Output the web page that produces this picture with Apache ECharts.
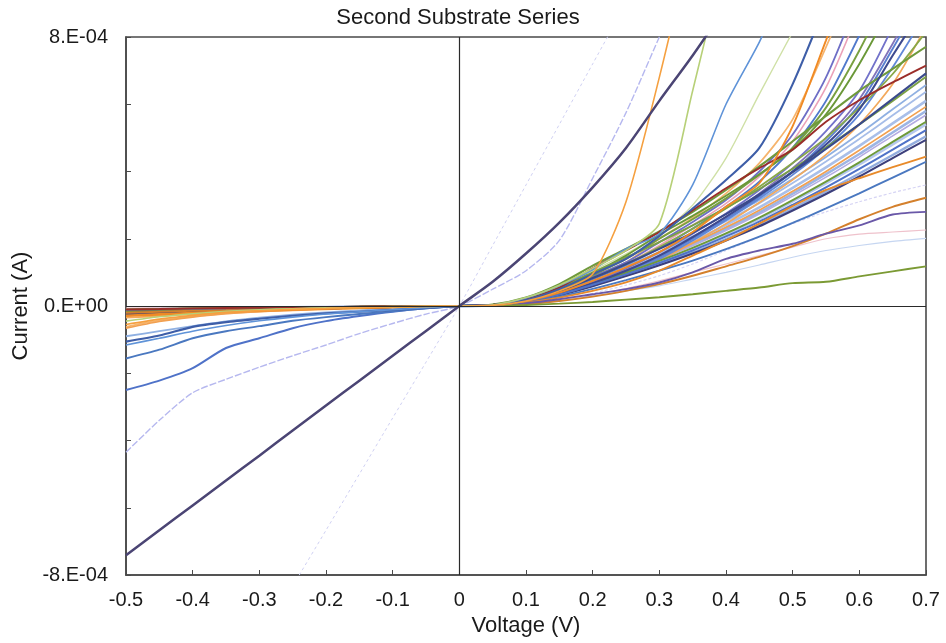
<!DOCTYPE html>
<html>
<head>
<meta charset="utf-8">
<title>Second Substrate Series</title>
<script src="https://cdn.jsdelivr.net/npm/echarts@6/dist/echarts.min.js"></script>
<style>
  html, body { margin: 0; padding: 0; background: #fff; }
  #chart { width: 946px; height: 643px; }
</style>
</head>
<body>
<div id="chart"></div>
<script>
// Bias voltage sweep (V)
const voltage = [-0.5, -0.45, -0.4, -0.35, -0.3, -0.25, -0.2, -0.15, -0.1, -0.05, 0,
                 0.05, 0.1, 0.15, 0.2, 0.25, 0.3, 0.35, 0.4, 0.45, 0.5, 0.55, 0.6, 0.65, 0.7];

// Measured currents, in microamps, one array per device (null = beyond sweep/compliance)
const cur_ohmic      = [-741,-667,-593,-519,-445,-370,-296,-222,-148,-74,0, 72,156,248,353,470,610,745,890,null,null,null,null,null,null];
const cur_faint      = [null,null,null,null,-1000,-833,-667,-500,-333,-167,0, 180,360,540,720,900,null,null,null,null,null,null,null,null,null];
const cur_lavender   = [-435,-340,-258,-218,-182,-148,-116,-82,-52,-24,0, 50,105,195,380,575,800,1020,null,null,null,null,null,null,null];
const cur_orangeStp  = [-55,-39,-28,-19,-14,-10,-7,-4,-3,-1,0, 2,15,45,95,310,680,1100,null,null,null,null,null,null,null];
const cur_limeStp    = [-45,-32,-23,-16,-11,-8,-5,-4,-2,-1,0, 3,25,62,112,165,245,640,1050,null,null,null,null,null,null];
const cur_blueStp    = [-116,-96,-75,-58,-44,-33,-24,-17,-11,-5,0, 3,24,60,108,170,215,360,600,785,1000,null,null,null,null];
const cur_paleGreen  = [-12,-10,-8,-7,-6,-4,-3,-2,-1,-1,0, 3,24,58,105,155,215,300,440,630,815,null,null,null,null];
const cur_darkBlue   = [-106,-88,-62,-48,-38,-29,-22,-17,-12,-6,0, 2,18,50,95,140,208,290,375,470,660,900,null,null,null];
const cur_orange1    = [-30,-26,-21,-17,-14,-11,-8,-6,-4,-2,0, 2,15,40,75,115,160,220,295,365,535,790,1050,null,null];
const cur_peach1     = [-62,-43,-31,-22,-16,-11,-7,-5,-3,-1,0, 3,18,48,88,130,200,262,335,425,555,770,1000,null,null];
const cur_violet1    = [-15,-13,-11,-9,-7,-6,-4,-3,-2,-1,0, 3,18,48,88,130,190,250,315,400,510,680,920,null,null];
const cur_pink1      = [-10,-9,-7,-6,-5,-4,-3,-2,-1,-1,0, 3,17,46,84,125,180,240,305,385,490,650,880,null,null];
const cur_blue1      = [-20,-17,-14,-12,-9,-7,-6,-4,-2,-1,0, 2,16,44,80,122,172,230,295,370,470,610,805,null,null];
const cur_green1     = [-14,-12,-10,-8,-7,-5,-4,-3,-2,-1,0, 3,19,50,92,140,200,258,320,390,470,590,760,960,null];
const cur_green2     = [-18,-15,-13,-10,-8,-7,-5,-4,-2,-1,0, 3,20,53,97,150,212,268,328,392,465,570,720,900,null];
const cur_violet2    = [-12,-10,-8,-7,-6,-4,-3,-2,-1,-1,0, 2,15,40,72,112,160,215,275,345,425,520,640,830,null];
const cur_purple1    = [-16,-14,-11,-9,-8,-6,-4,-3,-2,-1,0, 2,14,38,68,105,150,205,265,335,410,500,615,780,960];
const cur_blue2      = [-22,-19,-15,-13,-10,-8,-6,-4,-3,-1,0, 2,14,36,66,102,145,200,258,325,400,490,600,765,940];
const cur_navy1      = [-25,-21,-18,-15,-12,-9,-7,-5,-3,-1,0, 2,14,38,68,105,150,205,265,330,400,480,585,745,900];
const cur_blue3      = [-18,-15,-13,-10,-8,-7,-5,-4,-2,-1,0, 2,13,35,64,98,140,195,255,320,390,470,570,710,870];
const cur_peach2     = [-35,-30,-25,-20,-16,-13,-10,-7,-4,-2,0, 2,13,34,62,95,135,188,245,308,375,450,540,660,830];
const cur_green3     = [-12,-10,-8,-7,-6,-4,-3,-2,-1,-1,0, 3,17,46,84,125,175,230,290,355,425,500,590,690,815];
const cur_greenTop   = [-14,-12,-10,-8,-7,-5,-4,-3,-2,-1,0, 4,25,65,120,170,222,280,345,415,490,565,640,705,771];
const cur_darkRed    = [-10,-9,-7,-6,-5,-4,-3,-2,-1,-1,0, 3,20,55,112,165,220,285,350,410,465,548,612,665,715];
const cur_navy2      = [-24,-20,-17,-14,-11,-9,-7,-5,-3,-1,0, 3,17,45,83,125,170,218,273,332,398,467,540,616,692];
const cur_green4     = [-12,-10,-8,-7,-6,-4,-3,-2,-1,-1,0, 3,20,55,100,145,190,240,292,348,408,472,540,610,682];
const cur_ltBlue1    = [-90,-75,-60,-46,-35,-26,-19,-13,-8,-4,0, 3,16,43,79,118,161,207,260,315,378,443,512,585,657];
const cur_ltBlue2    = [-20,-17,-14,-12,-9,-7,-6,-4,-2,-1,0, 3,16,41,76,115,156,201,252,306,366,430,497,567,637];
const cur_orange2    = [-66,-46,-33,-23,-17,-12,-8,-5,-3,-1,0, 2,15,39,71,107,145,187,234,285,341,400,463,528,593];
const cur_ltPurple   = [-15,-13,-11,-9,-7,-6,-4,-3,-2,-1,0, 2,14,37,68,102,139,179,224,273,327,383,443,506,568];
const cur_green5     = [-18,-15,-13,-10,-8,-7,-5,-4,-2,-1,0, 2,14,36,66,99,134,173,216,263,315,370,427,488,548];
const cur_blue4      = [-250,-222,-185,-125,-96,-66,-45,-30,-17,-7,0, 2,13,34,63,94,128,165,207,251,301,353,408,465,523];
const cur_navy3      = [-22,-19,-15,-13,-10,-8,-6,-4,-3,-1,0, 2,12,32,59,89,121,156,195,237,284,333,385,440,494];
const cur_orange3    = [-28,-24,-20,-16,-13,-10,-8,-6,-3,-1,0, 2,10,25,45,70,105,150,195,245,297,345,380,413,444];
const cur_blue5      = [-156,-130,-96,-75,-60,-44,-33,-24,-16,-7,0, 2,11,28,51,77,105,135,169,206,247,290,335,382,429];
const cur_band1      = [-14,-12,-10,-8,-7,-5,-4,-3,-2,-1,0, 2,15,40,73,110,149,192,241,293,351,412,476,543,610];
const cur_band2      = [-16,-14,-11,-9,-8,-6,-4,-3,-2,-1,0, 2,15,38,70,104,142,183,229,278,334,392,452,516,580];
const cur_band3      = [-12,-10,-8,-7,-6,-4,-3,-2,-1,-1,0, 2,14,35,65,97,132,170,213,259,311,365,421,481,540];
const cur_band4      = [-18,-15,-13,-10,-8,-7,-5,-4,-2,-1,0, 2,13,33,61,91,124,159,199,242,290,341,394,449,505];
const cur_faintLav   = [-8,-7,-6,-5,-4,-3,-2,-2,-1,0,0, 1,8,20,38,62,90,125,165,205,245,280,310,337,360];
const cur_brown      = [-20,-17,-14,-12,-9,-7,-6,-4,-2,-1,0, 1,6,15,28,45,65,90,118,146,178,215,258,295,322];
const cur_purple2    = [-12,-10,-8,-7,-6,-4,-3,-2,-1,-1,0, 1,8,20,35,50,70,100,140,165,185,215,240,272,280];
const cur_palePink   = [-6,-5,-4,-3,-3,-2,-2,-1,-1,0,0, 1,7,18,33,52,75,100,125,150,175,200,214,220,226];
const cur_paleBlue   = [-8,-7,-6,-5,-4,-3,-2,-2,-1,0,0, 1,7,16,30,45,60,80,100,122,145,165,180,192,201];
const cur_olive      = [-10,-9,-7,-6,-5,-4,-3,-2,-1,-1,0, 1,3,7,12,19,26,35,45,55,68,72,88,103,118];

// Axis ticks (microamps) that carry a label
const yLabelTicks = [-800, 0, 800];
const xTicks = [-0.5, -0.4, -0.3, -0.2, -0.1, 0, 0.1, 0.2, 0.3, 0.4, 0.5, 0.6, 0.7];

// Drawing order: pale traces first, bold ones last
const traces = [
  { d: cur_faint,     c: '#cfd0f2', w: 1.0, t: [3, 3] },
  { d: cur_faintLav,  c: '#d6d4f4', w: 1.2, t: [3, 2] },
  { d: cur_palePink,  c: '#efc2cc', w: 1.2 },
  { d: cur_paleBlue,  c: '#c6d6f1', w: 1.2 },
  { d: cur_paleGreen, c: '#cfe0a6', w: 1.4 },
  { d: cur_lavender,  c: '#b6b8ef', w: 1.4, t: [7, 2] },
  { d: cur_band1,     c: '#a9bfe9', w: 2.6 },
  { d: cur_band2,     c: '#9db5e4', w: 2.6 },
  { d: cur_band3,     c: '#b5c8ee', w: 2.6 },
  { d: cur_band4,     c: '#93addf', w: 2.4 },
  { d: cur_ltBlue1,   c: '#8fb0e2', w: 1.8 },
  { d: cur_ltBlue2,   c: '#a6bde8', w: 1.8 },
  { d: cur_ltPurple,  c: '#b3abe2', w: 1.5 },
  { d: cur_pink1,     c: '#eaa2b9', w: 1.6 },
  { d: cur_peach1,    c: '#f6b46d', w: 1.7 },
  { d: cur_peach2,    c: '#f3a95c', w: 1.7 },
  { d: cur_orange2,   c: '#f2a050', w: 1.7 },
  { d: cur_violet1,   c: '#6e6ec6', w: 1.8 },
  { d: cur_violet2,   c: '#7272ca', w: 1.8 },
  { d: cur_purple1,   c: '#8173ba', w: 1.8 },
  { d: cur_blue1,     c: '#5079cc', w: 1.9 },
  { d: cur_blue2,     c: '#5a7fd0', w: 1.9 },
  { d: cur_blue3,     c: '#6188d8', w: 1.8 },
  { d: cur_green1,    c: '#78a040', w: 1.9 },
  { d: cur_green2,    c: '#6a9838', w: 1.9 },
  { d: cur_green3,    c: '#88a848', w: 1.8 },
  { d: cur_green4,    c: '#7aa045', w: 1.9 },
  { d: cur_green5,    c: '#6e9a3a', w: 1.9 },
  { d: cur_greenTop,  c: '#6f9a3c', w: 2.1 },
  { d: cur_navy1,     c: '#3d4a90', w: 2.1 },
  { d: cur_navy2,     c: '#3a4a8c', w: 2.1 },
  { d: cur_navy3,     c: '#3c3f7c', w: 2.1 },
  { d: cur_blue4,     c: '#4f72c8', w: 2.0 },
  { d: cur_blue5,     c: '#4a78c0', w: 1.9 },
  { d: cur_orange3,   c: '#e88a2a', w: 1.9 },
  { d: cur_brown,     c: '#d4802c', w: 1.9 },
  { d: cur_purple2,   c: '#6a58a8', w: 1.9 },
  { d: cur_olive,     c: '#7b9a34', w: 1.9 },
  { d: cur_darkRed,   c: '#9b2d2a', w: 1.9 },
  { d: cur_orange1,   c: '#f08a24', w: 1.9 },
  { d: cur_darkBlue,  c: '#3e5ea8', w: 2.1 },
  { d: cur_blueStp,   c: '#5f93d8', w: 1.6 },
  { d: cur_limeStp,   c: '#b7d078', w: 1.6 },
  { d: cur_orangeStp, c: '#f5a040', w: 1.6 },
  { d: cur_ohmic,     c: '#4b4574', w: 2.5 }
];

function sciLabel(uA) {
  if (yLabelTicks.indexOf(Math.round(uA)) < 0) return '';
  const amps = uA * 1e-6;
  if (amps === 0) return '0.E+00';
  const exp = Math.floor(Math.log10(Math.abs(amps)) + 1e-9);
  const mant = Math.round(amps / Math.pow(10, exp));
  const e = Math.abs(exp);
  return mant + '.E' + (exp < 0 ? '-' : '+') + (e < 10 ? '0' + e : e);
}

const FONT = '"Liberation Sans", Arial, Helvetica, sans-serif';

const series = [{
  type: 'line',
  data: [],
  silent: true,
  z: 1,
  markLine: {
    silent: true,
    symbol: 'none',
    label: { show: false },
    lineStyle: { color: '#2a2a2a', width: 1.2, type: 'solid' },
    data: [{ xAxis: 0 }, { yAxis: 0 }]
  }
}];
traces.forEach(function (tr) {
  series.push({
    type: 'line',
    data: voltage.map(function (v, i) { return [v, tr.d[i]]; }),
    showSymbol: false,
    smooth: 0.25,
    connectNulls: false,
    clip: true,
    silent: true,
    z: 2,
    lineStyle: { color: tr.c, width: tr.w, type: tr.t || 'solid' }
  });
});

const chart = echarts.init(document.getElementById('chart'), null, { renderer: 'canvas' });
chart.setOption({
  animation: false,
  backgroundColor: '#ffffff',
  textStyle: { fontFamily: FONT },
  title: {
    text: 'Second Substrate Series',
    left: 453,
    textAlign: 'center',
    top: 2,
    textStyle: { fontFamily: FONT, fontSize: 22, fontWeight: 'normal', color: '#1a1a1a' }
  },
  grid: { left: 126, right: 20, top: 37, bottom: 68, show: true, borderColor: '#4a4a4a', borderWidth: 1.6, backgroundColor: 'transparent' },
  xAxis: {
    type: 'value',
    min: -0.5, max: 0.7, interval: 0.1,
    name: 'Voltage (V)',
    nameLocation: 'middle',
    nameGap: 40,
    nameTextStyle: { fontFamily: FONT, fontSize: 22, color: '#1a1a1a' },
    axisLine: { onZero: false, lineStyle: { color: '#4a4a4a', width: 1.6 } },
    axisTick: { inside: true, length: 5, lineStyle: { color: '#4a4a4a' } },
    splitLine: { show: false },
    axisLabel: {
      fontFamily: FONT, fontSize: 20, color: '#1a1a1a', margin: 15,
      formatter: function (v) {
        const r = Math.round(v * 10) / 10;
        return xTicks.indexOf(r) < 0 ? '' : (r === 0 ? '0' : r.toFixed(1));
      }
    }
  },
  yAxis: {
    type: 'value',
    min: -800, max: 800, interval: 200,
    name: 'Current (A)',
    nameLocation: 'middle',
    nameGap: 94,
    nameRotate: 90,
    nameTextStyle: { fontFamily: FONT, fontSize: 22, color: '#1a1a1a' },
    axisLine: { onZero: false, lineStyle: { color: '#4a4a4a', width: 1.6 } },
    axisTick: { inside: true, length: 5, lineStyle: { color: '#4a4a4a' } },
    splitLine: { show: false },
    axisLabel: { fontFamily: FONT, fontSize: 20, color: '#1a1a1a', margin: 18, formatter: sciLabel }
  },
  series: series
});
</script>
</body>
</html>
